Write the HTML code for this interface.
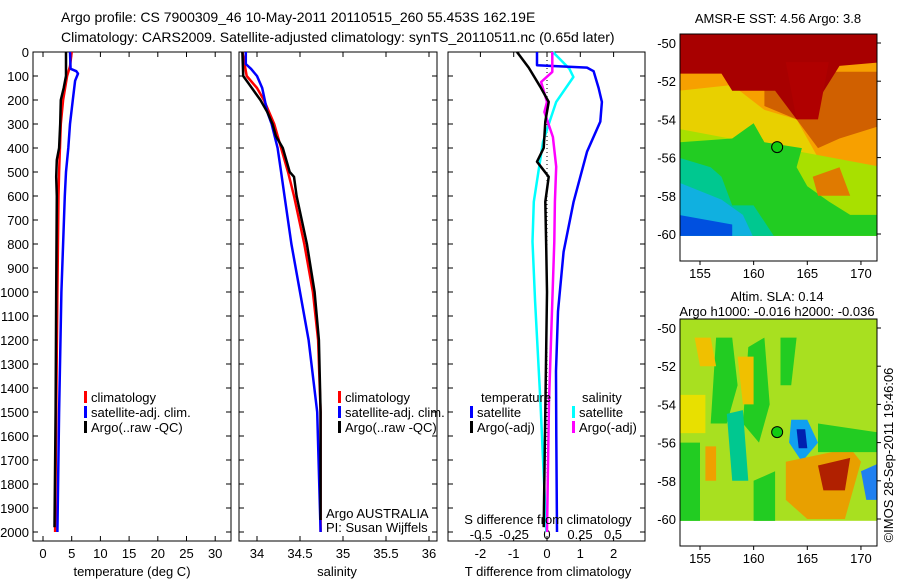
<!DOCTYPE html>
<html><head><meta charset="utf-8"><style>
body{margin:0;background:#fff}
svg{display:block;font-family:"Liberation Sans",sans-serif}
text{font-size:13px;fill:#000}
</style></head><body>
<svg id="fig" width="900" height="580" xmlns="http://www.w3.org/2000/svg">
<text x="61" y="22" style="font-size:14px">Argo profile: CS 7900309_46 10-May-2011 20110515_260 55.453S 162.19E</text>
<text x="61" y="42" style="font-size:14px">Climatology: CARS2009. Satellite-adjusted climatology: synTS_20110511.nc (0.65d later)</text>
<g id="panels"></g>
<g id="maps"></g>
</svg>
<script>
// ---- data ----
const depthTicks=[0,100,200,300,400,500,600,700,800,900,1000,1100,1200,1300,1400,1500,1600,1700,1800,1900,2000];
const tempTicks=[0,5,10,15,20,25,30];
const salTicks=[34,34.5,35,35.5,36];
const tdiffTicks=[-2,-1,0,1,2];
const sdiffTicks=[-0.5,-0.25,0,0.25,0.5];
const sdiffLabels=['-0.5','-0.25','0','0.25','0.5'];
// temperature profiles [depth, value]
const tempClim=[[0,5.0],[60,4.7],[100,4.2],[200,3.5],[300,3.1],[500,2.8],[600,2.7],[1000,2.5],[1500,2.3],[2000,2.1]];
const tempSat=[[0,4.7],[70,4.8],[80,5.8],[90,6.1],[120,5.6],[200,5.2],[300,4.7],[400,4.4],[500,4.0],[600,3.8],[1000,3.2],[1500,2.8],[2000,2.5]];
const tempArgo=[[0,4.0],[100,4.0],[150,3.6],[200,3.1],[300,3.0],[400,2.8],[450,2.4],[520,2.3],[600,2.4],[1000,2.3],[1500,2.2],[1980,2.0]];
// salinity profiles
const salClim=[[0,33.83],[100,33.88],[150,34.0],[200,34.08],[300,34.2],[400,34.28],[500,34.36],[600,34.43],[800,34.55],[1000,34.65],[1200,34.71],[1500,34.74],[2000,34.74]];
const salSat=[[0,33.87],[50,33.87],[70,33.93],[100,34.0],[150,34.06],[250,34.12],[300,34.17],[400,34.24],[500,34.28],[600,34.32],[800,34.4],[1000,34.5],[1200,34.6],[1500,34.7],[2000,34.74]];
const salArgo=[[0,33.83],[100,33.84],[130,33.9],[200,34.04],[250,34.12],[300,34.18],[350,34.22],[400,34.3],[500,34.38],[520,34.43],[600,34.46],[800,34.58],[1000,34.67],[1200,34.72],[1500,34.74],[1950,34.74]];
// differences
const tdSat=[[0,-0.3],[55,-0.3],[65,1.2],[80,1.4],[150,1.55],[208,1.65],[290,1.6],[416,1.2],[624,0.8],[832,0.5],[1081,0.33],[1330,0.27],[1600,0.28],[2000,0.3]];
const tdArgo=[[0,-0.9],[65,-0.55],[145,-0.2],[208,0.05],[290,-0.05],[400,-0.1],[457,-0.3],[520,0.05],[624,-0.05],[832,-0.02],[1000,0],[1500,-0.05],[1980,-0.1]];
const sdSat=[[0,0.045],[70,0.17],[104,0.2],[208,0.07],[290,0.02],[374,-0.03],[624,-0.1],[790,-0.11],[1040,-0.09],[1455,-0.05],[2000,-0.005]];
const sdArgo=[[0,0.04],[83,0.04],[125,-0.045],[208,0.0],[250,-0.02],[354,0.045],[478,0.07],[624,0.06],[790,0.055],[1040,0.04],[1455,0.015],[2000,0]];

// ---- geometry ----
const NS='http://www.w3.org/2000/svg';
const top0=52, bot=541;
const yD=d=>top0+d*0.24;
const P1={l:33,r:231}, P2={l:239,r:437}, P3={l:448,r:645};
const xT=v=>43+5.74*v;
const xS=v=>257+86*(v-34);
const xTd=v=>547+33.3*v;
const xSd=v=>547+132*v;
const g=document.getElementById('panels');
function el(tag,attrs,parent){const e=document.createElementNS(NS,tag);for(const k in attrs)e.setAttribute(k,attrs[k]);(parent||g).appendChild(e);return e;}
function txt(x,y,s,anchor,parent){const t=el('text',{x:x,y:y,'text-anchor':anchor||'start'},parent);t.textContent=s;return t;}

function panel(P,name){
  const r=el('rect',{x:P.l,y:top0,width:P.r-P.l,height:bot-top0,fill:'none',stroke:'#000','stroke-width':1});
  
  
  depthTicks.forEach(d=>{
    el('line',{x1:P.l,x2:P.l+5,y1:yD(d),y2:yD(d),stroke:'#000'});
    el('line',{x1:P.r,x2:P.r-5,y1:yD(d),y2:yD(d),stroke:'#000'});
  });
}
function xticks(P,ticks,fx,labels,name,ylab){
  ticks.forEach((t,i)=>{
    const x=fx(t);
    el('line',{x1:x,x2:x,y1:top0,y2:top0+5,stroke:'#000'});
    el('line',{x1:x,x2:x,y1:bot,y2:bot-5,stroke:'#000'});
    const tt=txt(x,ylab,labels?labels[i]:String(t),'middle');
    
    
  });
}
function line(data,fx,color,name,w){
  const pts=data.map(p=>fx(p[1]).toFixed(1)+','+yD(p[0]).toFixed(1)).join(' ');
  const pl=el('polyline',{points:pts,fill:'none',stroke:color,'stroke-width':w||2.5,'stroke-linejoin':'round'});
  
  
}
function legend(x,y,color,label,name){
  el('rect',{x:x,y:y-11,width:3,height:12,fill:color});
  const t=txt(x+7,y,label);
  
  
}

// depth labels
depthTicks.forEach(d=>{
  const t=txt(29,yD(d)+5,String(d),'end');
  
  
});
// panel 1
panel(P1,'temperature-panel');
xticks(P1,tempTicks,xT,null,'temperature',558);
line(tempClim,xT,'#f00','temp-climatology-line');
line(tempSat,xT,'#00f','temp-satellite-line');
line(tempArgo,xT,'#000','temp-argo-line');
let a=txt(132,576,'temperature (deg C)','middle');
legend(84,402,'#f00','climatology','legend-climatology');
legend(84,417,'#00f','satellite-adj. clim.','legend-satellite');
legend(84,432,'#000','Argo(..raw -QC)','legend-argo');
// panel 2
panel(P2,'salinity-panel');
xticks(P2,salTicks,xS,null,'salinity',558);
line(salClim,xS,'#f00','sal-climatology-line');
line(salSat,xS,'#00f','sal-satellite-line');
line(salArgo,xS,'#000','sal-argo-line');
a=txt(337,576,'salinity','middle');
legend(338,402,'#f00','climatology','legend-climatology-2');
legend(338,417,'#00f','satellite-adj. clim.','legend-satellite-2');
legend(338,432,'#000','Argo(..raw -QC)','legend-argo-2');
a=txt(326,518,'Argo AUSTRALIA');
a=txt(326,532,'PI: Susan Wijffels');
// panel 3
panel(P3,'difference-panel');
xticks(P3,tdiffTicks,xTd,null,'t-diff',558);
sdiffTicks.forEach((t,i)=>{
  const tt=txt(xSd(t),539,sdiffLabels[i],'middle');
  
  
});
el('line',{x1:xTd(0),x2:xTd(0),y1:yD(0),y2:yD(2000),stroke:'#000','stroke-dasharray':'1,3'});
line(sdSat,xSd,'#0ff','s-diff-satellite-line');
line(tdSat,xTd,'#00f','t-diff-satellite-line');
line(sdArgo,xSd,'#f0f','s-diff-argo-line');
line(tdArgo,xTd,'#000','t-diff-argo-line');
a=txt(548,576,'T difference from climatology','middle');
a=txt(548,524,'S difference from climatology','middle');
a=txt(481,402,'temperature');
legend(470,417,'#00f','satellite','legend-t-satellite');
legend(470,432,'#000','Argo(-adj)','legend-t-argo');
a=txt(582,402,'salinity');
legend(572,417,'#0ff','satellite','legend-s-satellite');
legend(572,432,'#f0f','Argo(-adj)','legend-s-argo');

// ---- maps ----
const latTicks=[-50,-52,-54,-56,-58,-60];
const lonTicks=[155,160,165,170];
const mg=document.getElementById('maps');
function map(y0,yLat50,name,blobs,base){
  const L=680,R=877,T=y0,B=y0+227;
  const xL=v=>700+(v-155)*10.73;
  const yL=v=>yLat50+(-50-v)*19.1;
  const imgB=yL(-60.1);
  const grp=el('g',{},mg);
  
  
  const clip=el('clipPath',{id:name+'-clip'},grp);
  el('rect',{x:L,y:T,width:R-L,height:imgB-T},clip);
  const ig=el('g',{'clip-path':'url(#'+name+'-clip)'},grp);
  el('rect',{x:L,y:T,width:R-L,height:imgB-T,fill:base},ig);
  blobs.forEach(b=>el('polygon',{points:b[1].map(p=>xL(p[0]).toFixed(1)+','+yL(p[1]).toFixed(1)).join(' '),fill:b[0]},ig));
  el('rect',{x:L,y:T,width:R-L,height:B-T,fill:'none',stroke:'#000'},grp);
  latTicks.forEach(v=>{
    el('line',{x1:R,x2:R+4,y1:yL(v),y2:yL(v),stroke:'#000'},grp);
    txt(L-4,yL(v)+5,String(v),'end',grp);
  });
  lonTicks.forEach(v=>{
    el('line',{x1:xL(v),x2:xL(v),y1:B,y2:B+4,stroke:'#000'},grp);
    txt(xL(v),B+17,String(v),'middle',grp);
  });
  const c=el('circle',{cx:xL(162.19),cy:yL(-55.45),r:5.5,fill:'#1c1','stroke':'#000'},grp);
  
  
}
const sstBlobs=[
 ['#f7a000',[[153,-51.5],[172,-51.5],[172,-60.2],[153,-60.2]]],
 ['#e8d000',[[153,-52.5],[158,-52.2],[161,-53.5],[164,-54],[166,-56],[169,-56.5],[172,-57],[172,-60.2],[153,-60.2]]],
 ['#a8e000',[[153,-54.5],[172,-56.5],[172,-60.2],[153,-60.2]]],
 ['#22cc22',[[153,-55.2],[158,-55],[160,-54.2],[161,-55.2],[164.5,-55.5],[164,-56.5],[165,-57.5],[167,-58.3],[169,-59],[172,-59],[172,-60.2],[153,-60.2]]],
 ['#00c890',[[153,-56],[156,-56.5],[157,-57],[158,-58.5],[160,-58.5],[162,-60.2],[153,-60.2]]],
 ['#10b0e0',[[153,-57.3],[157,-58.2],[159,-59],[160,-60.2],[153,-60.2]]],
 ['#0050e0',[[153,-59],[158,-59.5],[158,-60.2],[153,-60.2]]],
 ['#d06000',[[161,-52],[163,-51.5],[172,-51.5],[172,-54.3],[168,-55],[166,-55.5],[164,-54],[161,-53.3]]],
 ['#e07a00',[[165.5,-57],[168,-56.5],[169,-58],[166,-58]]],
 ['#a80000',[[153,-49],[172,-49],[172,-51],[168,-51.2],[166,-53],[164,-54],[162,-52.5],[158,-52.5],[157,-51.6],[153,-51.6]]],
 ['#b00000',[[163,-51],[167,-51],[166,-54],[164,-54]]]
];
const slaBlobs=[
 ['#22cc22',[[156.5,-50.5],[158,-50.5],[158.5,-53],[157.5,-55],[156,-55]]],
 ['#22cc22',[[159.5,-51],[161,-50.5],[161.5,-54],[160.5,-56],[159,-55]]],
 ['#00c890',[[157.5,-54.5],[159,-54.3],[159.5,-58],[158,-58]]],
 ['#22cc22',[[162.5,-50.5],[164,-50.5],[163.5,-53],[162.5,-53]]],
 ['#e8e000',[[153,-53.5],[155.5,-53.5],[155.5,-55.5],[153,-55.5]]],
 ['#f0c000',[[154.5,-50.5],[156,-50.5],[156.5,-52],[155,-52]]],
 ['#f0c000',[[158.5,-51.5],[160,-51.5],[160,-54],[159,-54]]],
 ['#22cc22',[[153,-56],[155,-56],[155,-60.2],[153,-60.2]]],
 ['#f0a000',[[155.5,-56.2],[156.5,-56.2],[156.5,-58],[155.5,-58]]],
 ['#10a0f0',[[163.5,-54.8],[165,-54.8],[166,-56],[164.5,-57],[163.3,-56]]],
 ['#0020b0',[[164,-55.3],[164.8,-55.3],[165,-56.3],[164.2,-56.3]]],
 ['#e8a000',[[163,-57],[169,-56.3],[170,-57],[168.5,-60],[165,-60],[163,-59]]],
 ['#b02000',[[166,-57.2],[169,-56.8],[168.5,-58.5],[166.5,-58.5]]],
 ['#22cc22',[[166,-55],[172,-55.5],[172,-56.5],[166,-56.5]]],
 ['#2080f0',[[170,-57.5],[172,-57],[172,-59],[170.5,-59]]],
 ['#22cc22',[[160,-58],[162,-57.5],[162,-60.2],[160,-60.2]]]
];
map(34,43,'sst-map',sstBlobs,'#f7a000');
map(319,328,'sla-map',slaBlobs,'#a8e020');
let t=txt(778,23,'AMSR-E SST: 4.56 Argo: 3.8','middle',mg);
t=txt(777,301,'Altim. SLA: 0.14','middle',mg);
t=txt(777,316,'Argo h1000: -0.016 h2000: -0.036','middle',mg);
t=txt(0,0,'©IMOS 28-Sep-2011 19:46:06','middle',mg);
t.setAttribute('transform','translate(893,455) rotate(-90)');

</script>
</body></html>
